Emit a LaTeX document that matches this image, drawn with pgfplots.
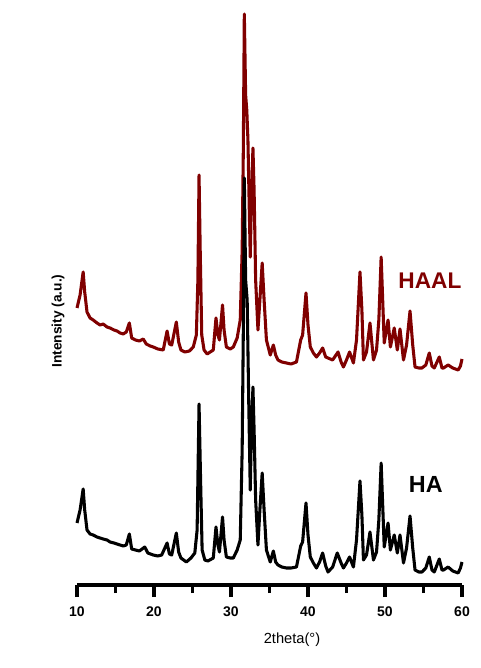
\documentclass[border=0pt]{standalone}
\usepackage{fontspec}
\setmainfont{Liberation Sans}
\usepackage{pgfplots}
\pgfplotsset{compat=1.18}
\definecolor{maroon}{HTML}{800000}

\pgfplotstableread{
x y
10.0 277
10.4 290
10.8 313
11.0 293
11.3 273
11.7 267
12.1 265
12.6 262
13.0 260
13.4 261
13.9 258
14.3 257
14.8 255
15.2 254
15.6 252
16.0 251
16.4 253
16.8 262
17.1 247
17.6 245
18.1 244
18.6 246
19.0 241
19.5 239
19.9 238
20.5 236
21.2 235
21.7 254
22.0 241
22.3 240
22.9 263
23.2 243
23.5 235
24.0 233
24.6 234
25.1 238
25.5 250
25.7 305
25.85 410
26.0 335
26.2 250
26.5 235
26.9 231
27.3 233
27.7 235
28.05 267
28.3 250
28.5 245
28.9 280
29.1 255
29.4 238
29.9 236
30.3 238
30.8 247
31.2 265
31.45 335
31.6 435
31.73 571
31.9 490
32.05 475
32.2 445
32.35 385
32.5 328
32.65 385
32.85 437
33.0 395
33.2 305
33.5 255
33.75 285
34.05 322
34.3 285
34.6 245
35.1 230
35.5 240
35.8 230
36.1 225
36.6 223
37.2 222
37.8 221
38.5 223
39.05 245
39.3 250
39.74 292
40.0 260
40.3 238
40.7 232
41.1 228
41.5 232
41.9 237
42.3 228
42.6 227
43.2 225
43.9 233
44.3 223
44.6 218
45.0 225
45.4 233
45.9 222
46.3 245
46.75 313
47.0 275
47.2 225
47.6 233
48.05 262
48.5 225
48.9 235
49.2 265
49.5 328
49.7 285
49.9 242
50.4 265
50.7 238
51.2 257
51.6 235
51.95 256
52.4 225
52.8 240
53.25 274
53.6 240
53.9 218
54.4 217
54.8 217
55.3 220
55.75 232
56.1 219
56.4 217
57.05 228
57.4 217
57.6 217
58.2 220
58.8 217
59.5 215
59.8 219
60.0 226
}\haal

\pgfplotstableread{
x y
10.0 62
10.4 75
10.8 96
11.0 75
11.3 55
11.7 51
12.1 50
12.6 48
13.0 47
13.4 46
13.9 45
14.3 43
14.8 42
15.2 41
15.6 40
16.0 39
16.4 40
16.8 51
17.1 36
17.6 35
18.1 34
18.8 38
19.2 32
19.9 30
20.5 29
21.0 30
21.7 42
22.0 31
22.3 30
22.9 52
23.2 33
23.5 27
24.2 23
24.8 27
25.3 32
25.6 55
25.85 181
26.05 105
26.25 35
26.6 25
27.0 24
27.7 27
28.05 58
28.3 40
28.5 33
28.9 68
29.1 45
29.4 28
29.9 27
30.3 27
30.8 35
31.2 45
31.45 135
31.6 255
31.73 407
31.9 305
32.1 285
32.3 185
32.5 95
32.65 155
32.85 198
33.0 155
33.2 85
33.5 40
33.75 75
34.05 112
34.3 75
34.6 35
35.1 23
35.5 34
35.8 23
36.1 20
36.6 18
37.2 17
37.8 17
38.5 18
39.05 39
39.3 43
39.74 82
40.0 50
40.3 28
40.7 22
41.1 17
41.5 23
41.9 32
42.3 19
42.6 13
43.2 18
43.8 32
44.3 22
44.6 17
45.0 22
45.4 28
45.9 18
46.3 45
46.75 104
47.0 70
47.2 25
47.6 30
48.05 53
48.5 25
48.9 33
49.2 65
49.5 122
49.7 80
49.9 38
50.4 62
50.7 35
51.2 50
51.6 32
51.95 50
52.4 22
52.8 37
53.25 69
53.6 37
53.9 15
54.4 13
54.8 13
55.3 17
55.75 28
56.1 15
56.4 13
57.05 26
57.4 15
57.6 15
58.2 18
58.8 14
59.5 12
59.8 17
60.0 23
}\ha

\begin{document}
\begin{tikzpicture}
% page = 480x668 px, 1 px = 0.75pt, axis box at px (77..462, 0..585)
\useasboundingbox (-57.75pt,-62.25pt) rectangle (302.25pt,438.75pt);
\begin{axis}[
  scale only axis, width=288.75pt, height=438.75pt,
  xmin=10, xmax=60, ymin=0, ymax=585,
  axis x line*=bottom, axis y line=none,
  x axis line style={line width=2.6pt, -},
  xtick={10,20,...,60}, minor xtick={15,25,...,55},
  tick align=outside,
  major tick length=9pt, minor tick length=6pt,
  every tick/.style={line width=2.4pt, black},
  /pgf/number format/assume math mode=true,
  xticklabel style={font=\bfseries\fontsize{10.5}{12}\selectfont, yshift=-3.5pt},
  clip=false,
]
\addplot[maroon, line width=2.3pt, line join=round] table[x=x, y=y] {\haal};
\addplot[black, line width=2.3pt, line join=round] table[x=x, y=y] {\ha};
\node[maroon, font=\bfseries\fontsize{17}{20}\selectfont] at (axis cs:55.84,304) {HAAL};
\node[black, font=\bfseries\fontsize{17.5}{20}\selectfont] at (axis cs:55.3,101) {HA};
\node[rotate=90, font=\bfseries\fontsize{10.3}{12}\selectfont] at (axis cs:7.53,264) {Intensity (a.u.)};
\node[font=\fontsize{11}{13}\selectfont] at (axis cs:37.92,-55) {2theta(°)};
\end{axis}
\end{tikzpicture}
\end{document}
